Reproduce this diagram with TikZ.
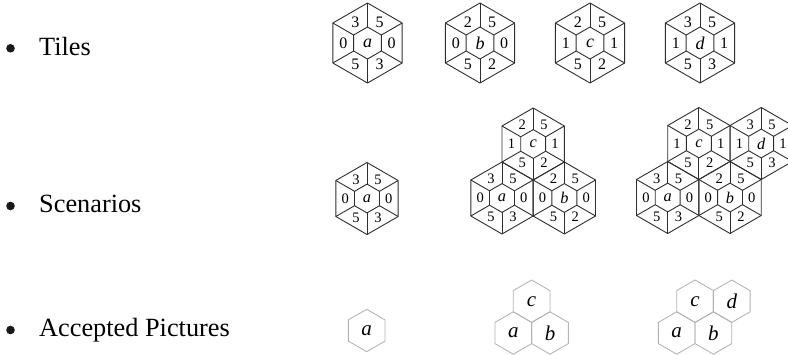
\documentclass[tikz,border=0pt]{standalone}
\usepackage{fontspec}
\setmainfont{Liberation Serif}
\begin{document}
\begin{tikzpicture}[x=1pt,y=1pt,
  tileline/.style={draw=black!82, line width=0.9pt, line join=round},
  accline/.style={draw=black!30, line width=0.85pt, line join=round},
  tilelabel/.style={inner sep=0pt},
  bulletdot/.style={circle, fill=black!90, inner sep=0pt, minimum size=8.6pt},
  listtext/.style={anchor=base west, inner sep=0pt, font=\fontsize{26.3}{26.3}\selectfont},
  tileR/.code={\def\tileR{#1}},
  pics/tile/.style n args={7}{code={
    \draw[tileline] (90:\tileR) -- (30:\tileR) -- (-30:\tileR) -- (-90:\tileR) -- (-150:\tileR) -- (150:\tileR) -- cycle;
    \draw[tileline] (90:0.4*\tileR) -- (30:0.4*\tileR) -- (-30:0.4*\tileR) -- (-90:0.4*\tileR) -- (-150:0.4*\tileR) -- (150:0.4*\tileR) -- cycle;
    \foreach \a in {90,30,-30,-90,-150,150} {\draw[tileline] (\a:\tileR) -- (\a:0.4*\tileR);}
    \node[tilelabel] (-c)  at (0,0) {\itshape\larger #1};
    \node[tilelabel] (-tl) at (120:0.606*\tileR) {#2};
    \node[tilelabel] (-tr) at (60:0.606*\tileR) {#3};
    \node[tilelabel] (-l)  at (180:0.606*\tileR) {#4};
    \node[tilelabel] (-r)  at (0:0.606*\tileR) {#5};
    \node[tilelabel] (-bl) at (-120:0.606*\tileR) {#6};
    \node[tilelabel] (-br) at (-60:0.606*\tileR) {#7};
  }},
  pics/acc/.style={code={
    \draw[accline] (90:\tileR) -- (30:\tileR) -- (-30:\tileR) -- (-90:\tileR) -- (-150:\tileR) -- (150:\tileR) -- cycle;
    \node[tilelabel] (-c) at (0,0) {\itshape #1};
  }}
]
\providecommand\larger{\fontsize{\dimexpr\csname f@size\endcsname pt*9/8\relax}{1em}\selectfont}
\useasboundingbox (0,0) rectangle (788,-354);
\clip (0,0) rectangle (788,-354);

\node[bulletdot] (b1) at (10.5,-48.3) {};
\node[listtext] (t1) at (39,-55) {Tiles};
\node[bulletdot] (b2) at (10.5,-206) {};
\node[listtext] (t2) at (39,-212.7) {Scenarios};
\node[bulletdot] (b3) at (10.5,-330) {};
\node[listtext] (t3) at (39,-336.7) {Accepted Pictures};

\begin{scope}[tileR=40, font=\fontsize{16}{16}\selectfont]
\pic (A) at (367.5,-43) {tile={a}{3}{5}{0}{0}{5}{3}};
\pic (B) at (480,-43) {tile={b}{2}{5}{0}{0}{5}{2}};
\pic (C) at (590,-43) {tile={c}{2}{5}{1}{1}{5}{2}};
\pic (D) at (700,-43) {tile={d}{3}{5}{1}{1}{5}{3}};
\end{scope}

\begin{scope}[tileR=36, font=\fontsize{14.5}{14.5}\selectfont]
\pic (SAa) at (367,-198.5) {tile={a}{3}{5}{0}{0}{5}{3}};
\pic (SBa) at (502,-198) {tile={a}{3}{5}{0}{0}{5}{3}};
\pic (SBb) at (564.35,-198) {tile={b}{2}{5}{0}{0}{5}{2}};
\pic (SBc) at (533.2,-144) {tile={c}{2}{5}{1}{1}{5}{2}};
\pic (SCa) at (667.7,-197.5) {tile={a}{3}{5}{0}{0}{5}{3}};
\pic (SCb) at (730.05,-197.5) {tile={b}{2}{5}{0}{0}{5}{2}};
\pic (SCc) at (698.9,-143.5) {tile={c}{2}{5}{1}{1}{5}{2}};
\pic (SCd) at (761.2,-143.5) {tile={d}{3}{5}{1}{1}{5}{3}};
\end{scope}

\begin{scope}[tileR=21.2, font=\fontsize{21}{21}\selectfont]
\pic (PAa) at (366.7,-330.5) {acc={a}};
\pic (PBa) at (513.3,-333) {acc={a}};
\pic (PBb) at (550,-333) {acc={b}};
\pic (PBc) at (531.65,-301.2) {acc={c}};
\pic (PCa) at (676.7,-333) {acc={a}};
\pic (PCb) at (713.4,-333) {acc={b}};
\pic (PCc) at (695.05,-301.2) {acc={c}};
\pic (PCd) at (731.75,-301.2) {acc={d}};
\end{scope}
\end{tikzpicture}
\end{document}
